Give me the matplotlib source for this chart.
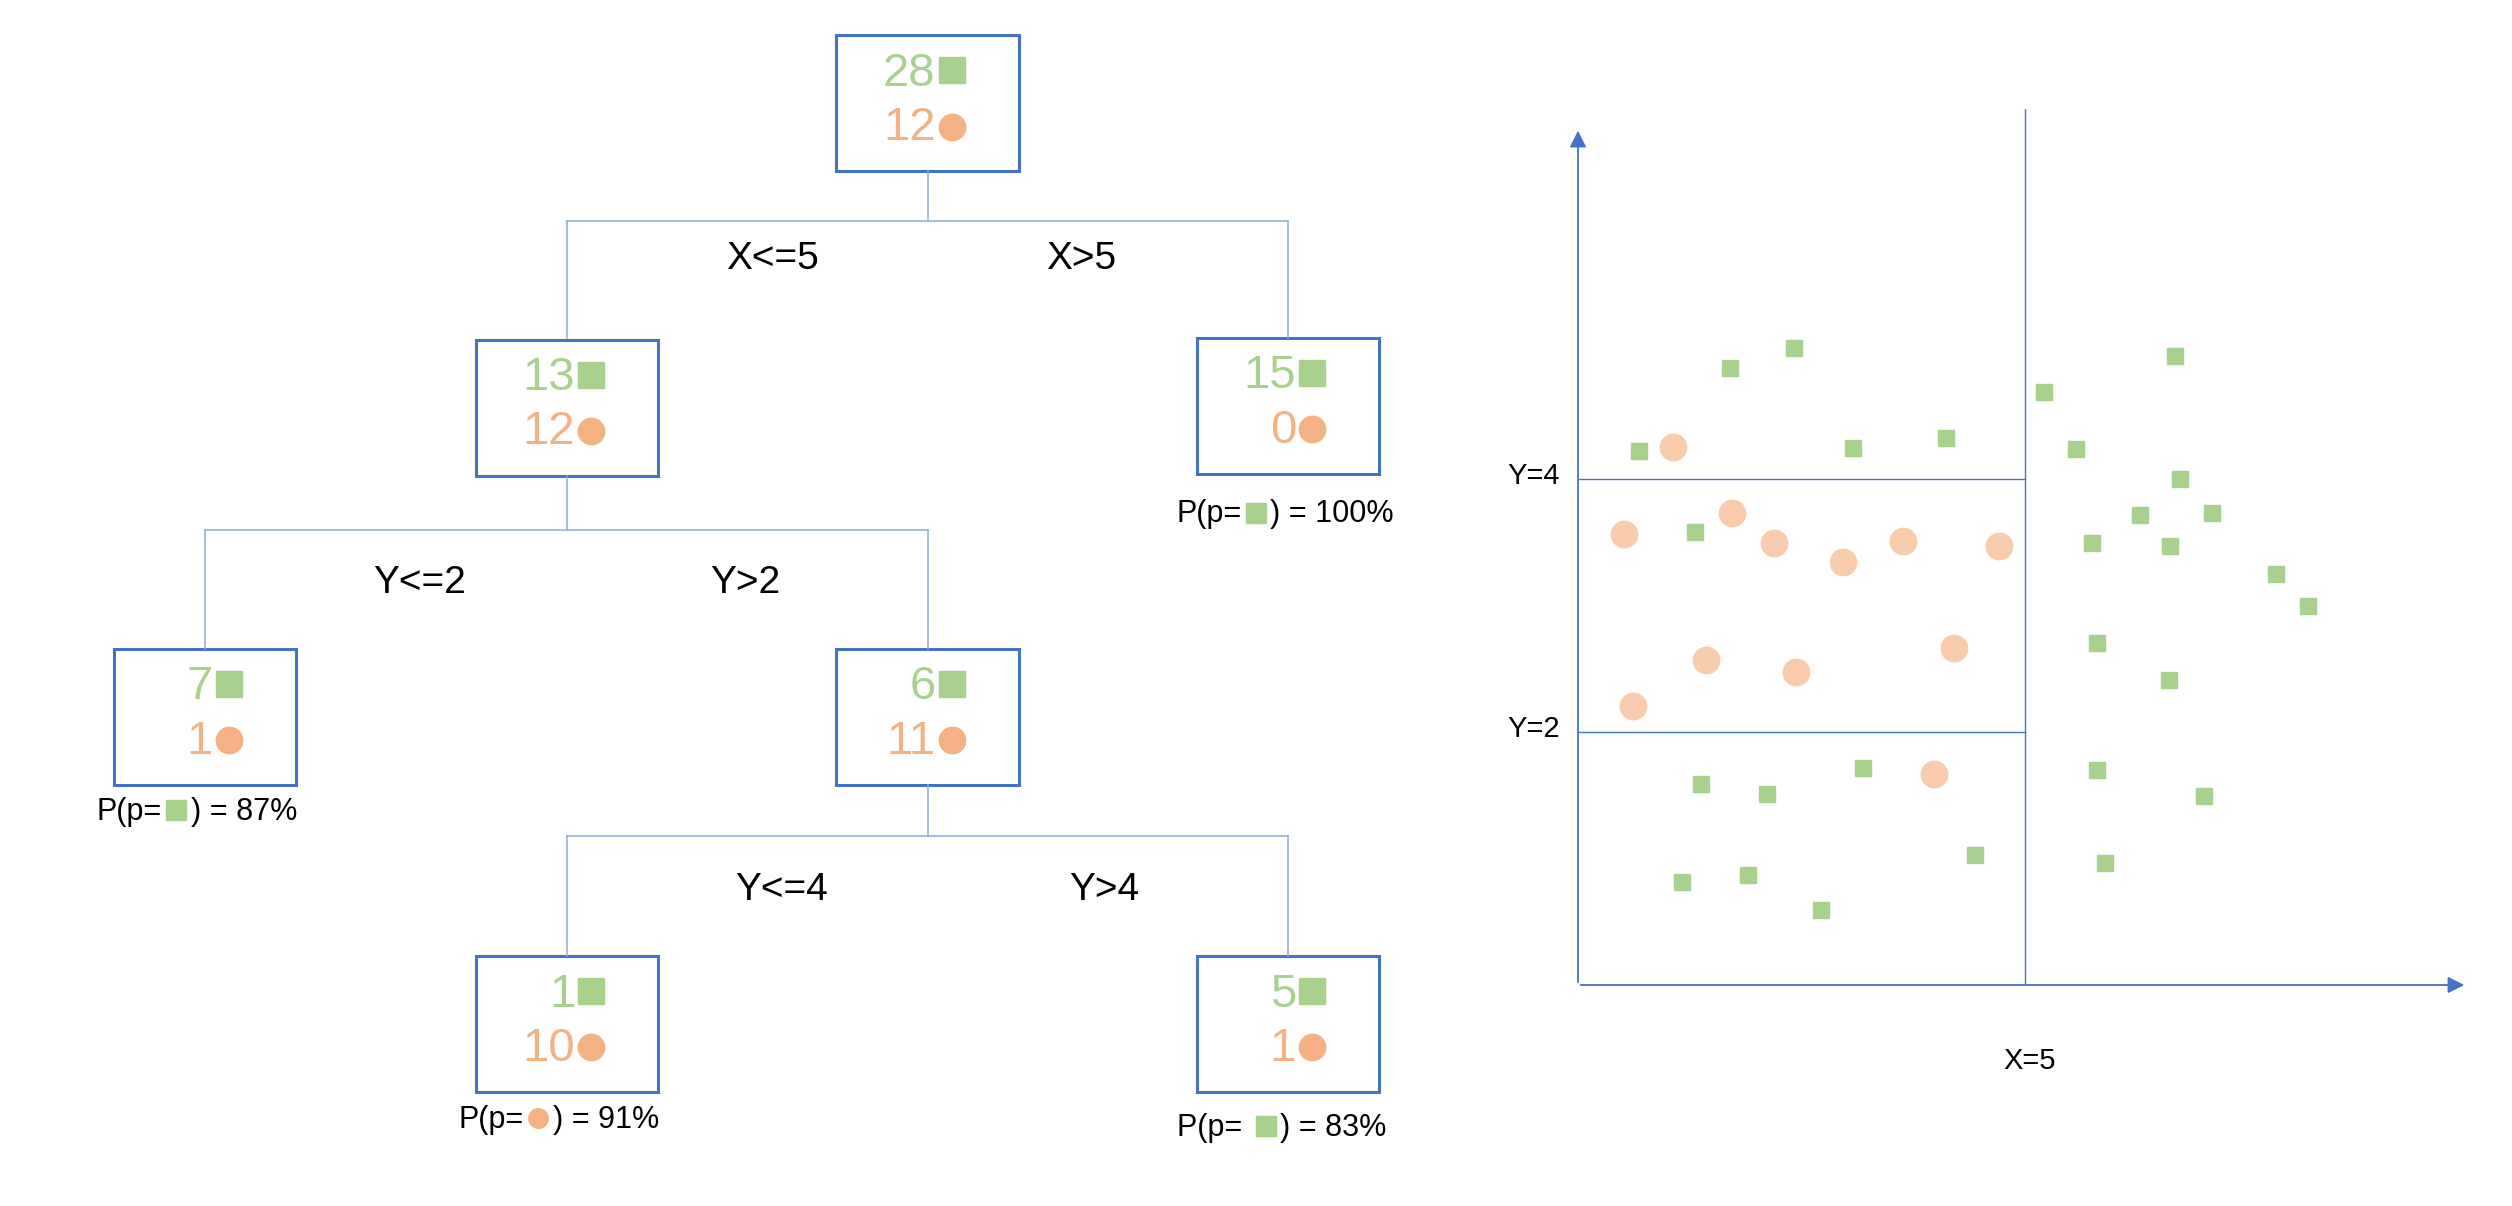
import matplotlib.pyplot as plt

plt.rcParams["font.family"] = ["Liberation Sans", "DejaVu Sans"]

# ---------------- DATA ----------------
GREEN = "#a9d18e"
ORANGE = "#f4b183"
CIRCLE = "#f8cbad"
BOX = "#4472c4"
LINE = "#8faadc"

# tree nodes: (center x, top y, squares, circles) in layout pixels
node_x = [579, 354, 804, 128, 579, 354, 804]
node_top = [22, 212, 211, 405, 405, 597, 597]
node_sq = [28, 13, 15, 7, 6, 1, 5]
node_ci = [12, 12, 0, 1, 11, 10, 1]

split_labels = [("X<=5", 482, 162), ("X>5", 675, 162),
                ("Y<=2", 262, 364), ("Y>2", 465, 364),
                ("Y<=4", 488, 556), ("Y>4", 689, 556)]

# leaf probabilities: (text before, marker, text after, x, y, marker x)
probs = [("P(p=", "s", ") = 100%", 804, 321, 784),
         ("P(p=", "s", ") = 87%", 124, 507, 110),
         ("P(p=", "o", ") = 91%", 349, 699, 336),
         ("P(p= ", "s", ") = 83%", 802, 704, 790)]

sq_x = [2.42, 1.70, 0.68, 3.08, 4.12, 1.31, 1.38, 2.11, 3.19, 1.16, 1.90, 2.72, 4.44,
        5.22, 6.68, 5.57, 6.74, 6.29, 7.10, 5.75, 6.63, 7.81, 8.17, 5.81, 6.61, 5.81, 7.01, 5.90]
sq_y = [5.03, 4.87, 4.22, 4.24, 4.32, 3.58, 1.59, 1.51, 1.71, 0.81, 0.87, 0.59, 1.03,
        4.68, 4.97, 4.23, 4.00, 3.71, 3.73, 3.49, 3.47, 3.25, 2.99, 2.70, 2.41, 1.70, 1.49, 0.96]
ci_x = [1.06, 0.52, 1.72, 2.19, 2.97, 3.64, 4.71, 1.43, 2.44, 4.21, 0.61, 3.98]
ci_y = [4.25, 3.56, 3.73, 3.49, 3.34, 3.51, 3.47, 2.57, 2.47, 2.66, 2.20, 1.67]

# ---------------- FIGURE ----------------
W, H = 1568, 753
fig = plt.figure(figsize=(25.12, 12.06), dpi=100)
ax = fig.add_axes([0, 0, 1, 1])
ax.set_xlim(0, W)
ax.set_ylim(H, 0)
ax.axis("off")

# connectors
def split(px, y0, ymid, xl, xr, y1):
    ax.plot([px, px], [y0, ymid], color=LINE, lw=1.1)
    ax.plot([xl, xr], [ymid, ymid], color=LINE, lw=1.1)
    ax.plot([xl, xl], [ymid, y1], color=LINE, lw=1.1)
    ax.plot([xr, xr], [ymid, y1], color=LINE, lw=1.1)

split(579, 107, 138, 354, 804, 211)
split(354, 297, 331, 128, 579, 405)
split(579, 490, 522, 354, 804, 597)

# boxes
for cx, top, s, c in zip(node_x, node_top, node_sq, node_ci):
    ax.add_patch(plt.Rectangle((cx - 57, top), 114, 85, fill=False,
                               edgecolor=BOX, lw=2.2))
    ax.text(cx + 5, top + 24, str(s), color=GREEN, fontsize=34,
            ha="right", va="center")
    ax.plot(cx + 15, top + 22, "s", color=GREEN, ms=19)
    ax.text(cx + 5, top + 58, str(c), color=ORANGE, fontsize=34,
            ha="right", va="center")
    ax.plot(cx + 15, top + 57, "o", color=ORANGE, ms=19)

for t, x, y in split_labels:
    ax.text(x, y, t, fontsize=28, ha="center", va="center")

for before, m, after, x, y, mx in probs:
    ax.text(mx - 9, y, before, fontsize=22, ha="right", va="center")
    ax.plot(mx, y - 1, m, color=GREEN if m == "s" else ORANGE, ms=14)
    ax.text(mx + 9, y, after, fontsize=22, ha="left", va="center")

# ---------------- SCATTER ----------------
ax2 = fig.add_axes([985 / W, 1 - 615 / H, 555 / W, 547 / H])
ax2.set_xlim(0, 9.95)
ax2.set_ylim(0, 6.92)
ax2.axis("off")

ax2.annotate("", xy=(0, 6.77), xytext=(0, 0),
             arrowprops=dict(arrowstyle="-|>", color=BOX, lw=1.3, mutation_scale=25))
ax2.annotate("", xy=(9.95, 0), xytext=(0, 0),
             arrowprops=dict(arrowstyle="-|>", color=BOX, lw=1.3, mutation_scale=25))
ax2.plot([5, 5], [0, 6.92], color=BOX, lw=1.0)
ax2.plot([0, 5], [2, 2], color=BOX, lw=1.0)
ax2.plot([0, 5], [4, 4], color=BOX, lw=1.0)

ax2.plot(sq_x, sq_y, "s", color=GREEN, ms=11, ls="none")
ax2.plot(ci_x, ci_y, "o", color=CIRCLE, ms=19, ls="none")

ax2.text(-0.2, 4.02, "Y=4", fontsize=21, ha="right", va="center")
ax2.text(-0.2, 2.02, "Y=2", fontsize=21, ha="right", va="center")
ax2.text(5.05, -0.6, "X=5", fontsize=21, ha="center", va="center")

fig.savefig("out.png", dpi=100)
